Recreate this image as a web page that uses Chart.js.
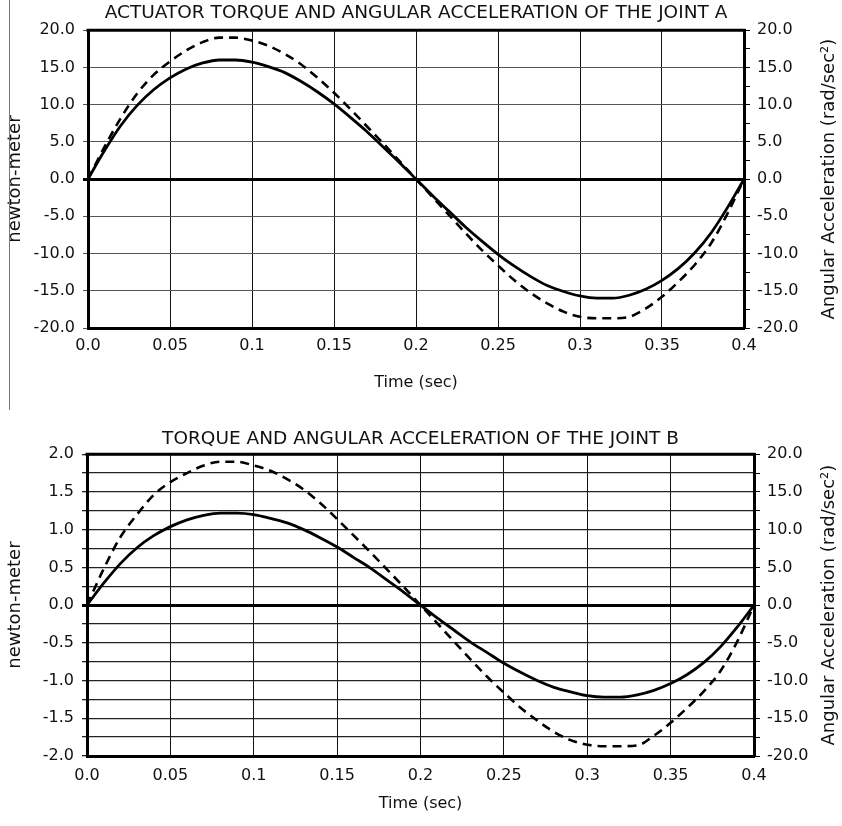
<!DOCTYPE html>
<html>
<head>
<meta charset="utf-8">
<script src="https://cdn.jsdelivr.net/npm/chart.js@4.4.1/dist/chart.umd.min.js"></script>
<style>
  body { margin: 0; background: #fff; }
  #wrap { position: relative; width: 842px; height: 826px; }
  .box { position: absolute; left: 0; width: 842px; }
  #topBox { top: 0; height: 420px; }
  #botBox { top: 420px; height: 406px; }
  #edge { position: absolute; left: 9px; top: 0; width: 1px; height: 410px; background: #777; }
</style>
</head>
<body>
<div id="wrap">
  <div class="box" id="topBox"><canvas id="chartA"></canvas></div>
  <div class="box" id="botBox"><canvas id="chartB"></canvas></div>
  <div id="edge"></div>
</div>
<script>
var times = [0, 0.01, 0.02, 0.03, 0.04, 0.05, 0.06, 0.07, 0.08, 0.09, 0.1,
    0.11, 0.12, 0.13, 0.14, 0.15, 0.16, 0.17, 0.18, 0.19, 0.2,
    0.21, 0.22, 0.23, 0.24, 0.25, 0.26, 0.27, 0.28, 0.29, 0.3,
    0.31, 0.32, 0.33, 0.34, 0.35, 0.36, 0.37, 0.38, 0.39, 0.4];

// joint A: actuator torque (newton-meter) and angular acceleration (rad/sec^2)
var torqueA = [0, 3.8, 7.2, 9.9, 12.0, 13.6, 14.8, 15.6, 16.0, 16.0, 15.7,
    15.1, 14.3, 13.1, 11.7, 10.1, 8.3, 6.4, 4.3, 2.2, 0,
    -2.2, -4.3, -6.4, -8.3, -10.1, -11.7, -13.1, -14.3, -15.1, -15.7,
    -16.0, -16.0, -15.6, -14.8, -13.6, -12.0, -9.9, -7.2, -3.8, 0];
var accelA = [0, 4.3, 8.2, 11.5, 14.0, 15.8, 17.3, 18.4, 19.0, 19.0, 18.6,
    17.9, 16.8, 15.4, 13.6, 11.6, 9.4, 7.1, 4.8, 2.4, 0,
    -2.4, -4.8, -7.2, -9.5, -11.6, -13.6, -15.3, -16.7, -17.8, -18.5,
    -18.7, -18.7, -18.5, -17.4, -15.8, -13.8, -11.5, -8.6, -4.6, 0];

// joint B
var torqueB = [0, 0.29, 0.55, 0.76, 0.92, 1.04, 1.13, 1.19, 1.22, 1.22, 1.20,
    1.15, 1.09, 1.00, 0.89, 0.77, 0.63, 0.49, 0.33, 0.17, 0,
    -0.17, -0.33, -0.49, -0.63, -0.77, -0.89, -1.00, -1.09, -1.15, -1.20,
    -1.22, -1.22, -1.19, -1.13, -1.04, -0.92, -0.76, -0.55, -0.29, 0];
var accelB = [0, 4.8, 9.0, 12.0, 14.6, 16.3, 17.5, 18.5, 19.0, 19.0, 18.5,
    17.8, 16.7, 15.3, 13.5, 11.4, 9.2, 7.0, 4.7, 2.4, 0,
    -2.4, -4.8, -7.2, -9.5, -11.6, -13.6, -15.3, -16.8, -17.9, -18.5,
    -18.7, -18.7, -18.6, -17.3, -15.6, -13.6, -11.4, -8.7, -4.8, 0];

var titleA = "ACTUATOR TORQUE AND ANGULAR ACCELERATION OF THE JOINT A";
var titleB = "TORQUE AND ANGULAR ACCELERATION OF THE JOINT B";
var xTitle = "Time (sec)";
var leftTitle = "newton-meter";
var rightTitle = "Angular Acceleration (rad/sec\u00B2)";

var FONT = '"DejaVu Sans", "Liberation Sans", sans-serif';

function points(ys) {
    return times.map(function (t, i) { return { x: t, y: ys[i] }; });
}

// top border of the plot frame + right axis title (reads bottom to top)
var framePlugin = {
    id: 'frame',
    beforeDatasetsDraw: function (chart) {
        var a = chart.chartArea, ctx = chart.ctx;
        ctx.save();
        ctx.strokeStyle = '#000';
        ctx.lineWidth = 3;
        ctx.beginPath();
        ctx.moveTo(a.left - 1.5, a.top);
        ctx.lineTo(a.right + 1.5, a.top);
        ctx.stroke();
        ctx.restore();
    },
    afterDraw: function (chart) {
        var a = chart.chartArea, ctx = chart.ctx;
        ctx.save();
        ctx.translate(829, (a.top + a.bottom) / 2);
        ctx.rotate(-Math.PI / 2);
        ctx.font = '18px ' + FONT;
        ctx.fillStyle = '#111';
        ctx.textAlign = 'center';
        ctx.textBaseline = 'middle';
        ctx.fillText(rightTitle, 0, 0);
        ctx.restore();
    }
};

function makeChart(id, o) {
    var ctx = document.getElementById(id);
    return new Chart(ctx, {
        type: 'line',
        data: {
            datasets: [
                {
                    label: 'torque',
                    data: points(o.torque),
                    yAxisID: 'y',
                    borderColor: '#000',
                    borderWidth: 2.8,
                    pointRadius: 0,
                    cubicInterpolationMode: 'monotone'
                },
                {
                    label: 'acceleration',
                    data: points(o.accel),
                    yAxisID: 'y1',
                    borderColor: '#000',
                    borderWidth: 2.6,
                    borderDash: [9, 6],
                    pointRadius: 0,
                    cubicInterpolationMode: 'monotone'
                }
            ]
        },
        options: {
            responsive: true,
            maintainAspectRatio: false,
            animation: false,
            devicePixelRatio: 1,
            layout: { padding: { top: o.padTop, bottom: o.padBottom, left: 0, right: 0 } },
            plugins: {
                legend: { display: false },
                tooltip: { enabled: false },
                title: {
                    display: true,
                    text: o.title,
                    fullSize: false,
                    color: '#111',
                    font: { family: FONT, size: 18.5, weight: 'normal' },
                    padding: { top: o.titleTop, bottom: o.titleBottom }
                }
            },
            scales: {
                x: {
                    type: 'linear',
                    min: 0,
                    max: 0.4,
                    afterFit: function (s) { s.height = o.xHeight; },
                    ticks: {
                        stepSize: 0.05,
                        padding: o.xPad,
                        color: '#111',
                        font: { family: FONT, size: 16 },
                        maxRotation: 0,
                        autoSkip: false,
                        callback: function (v) {
                            return v === 0 ? '0.0' : String(Math.round(v * 100) / 100);
                        }
                    },
                    grid: { color: '#111', lineWidth: 1, drawTicks: false },
                    border: { display: true, color: '#000', width: 3 },
                    title: {
                        display: true,
                        text: xTitle,
                        color: '#111',
                        font: { family: FONT, size: 16 },
                        padding: { top: 0, bottom: 4 }
                    }
                },
                y: {
                    position: 'left',
                    min: o.leftMin,
                    max: o.leftMax,
                    afterFit: function (s) { s.width = o.leftWidth; },
                    ticks: {
                        stepSize: o.leftStep,
                        padding: 8,
                        autoSkip: false,
                        color: '#111',
                        font: { family: FONT, size: 16 },
                        callback: function (v) {
                            var r = v / o.leftLabelStep;
                            return Math.abs(r - Math.round(r)) < 1e-6 ? v.toFixed(1) : '';
                        }
                    },
                    grid: {
                        tickLength: 5,
                        color: function (c) { return c.tick && c.tick.value === 0 ? '#000' : o.gridColor; },
                        lineWidth: function (c) { return c.tick && c.tick.value === 0 ? 3 : o.gridWidth; }
                    },
                    border: { display: true, color: '#000', width: 3 },
                    title: {
                        display: true,
                        text: leftTitle,
                        color: '#111',
                        font: { family: FONT, size: 18 },
                        padding: { top: 5, bottom: 0 }
                    }
                },
                y1: {
                    position: 'right',
                    min: -20,
                    max: 20,
                    afterFit: function (s) { s.width = o.rightWidth; },
                    ticks: {
                        stepSize: 2.5,
                        padding: 7,
                        autoSkip: false,
                        color: '#111',
                        font: { family: FONT, size: 16 },
                        callback: function (v) {
                            return v % 5 === 0 ? v.toFixed(1) : '';
                        }
                    },
                    grid: { drawOnChartArea: false, tickLength: 6, color: '#000', lineWidth: 1 },
                    border: { display: true, color: '#000', width: 3 }
                }
            }
        },
        plugins: [framePlugin]
    });
}

makeChart('chartA', {
    title: titleA,
    torque: torqueA,
    accel: accelA,
    leftMin: -20, leftMax: 20, leftStep: 5, leftLabelStep: 5,
    leftWidth: 88, rightWidth: 98,
    gridColor: '#555', gridWidth: 1,
    padTop: 0, padBottom: 24, titleTop: 2, titleBottom: 6,
    xHeight: 68, xPad: 8
});

makeChart('chartB', {
    title: titleB,
    torque: torqueB,
    accel: accelB,
    leftMin: -2, leftMax: 2, leftStep: 0.25, leftLabelStep: 0.5,
    leftWidth: 87, rightWidth: 88,
    gridColor: '#222', gridWidth: 1.3,
    padTop: 0, padBottom: 9, titleTop: 8, titleBottom: 4,
    xHeight: 61, xPad: 10
});
</script>
</body>
</html>
